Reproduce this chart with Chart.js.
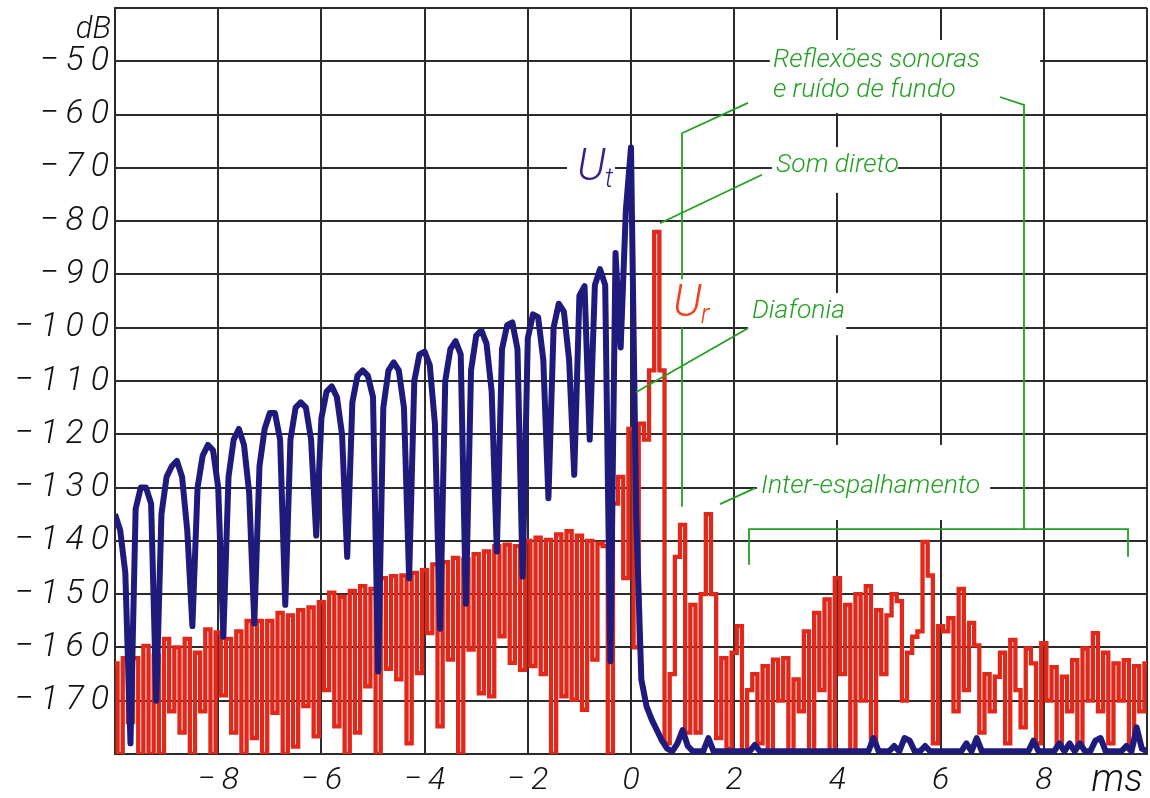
<!DOCTYPE html>
<html>
<head>
<meta charset="utf-8">
<script src="https://cdn.jsdelivr.net/npm/chart.js@4.4.1/dist/chart.umd.min.js"></script>
<style>
  html, body { margin: 0; background: #fff; }
</style>
</head>
<body>
<canvas id="echoChart" width="1150" height="798"></canvas>
<script>
// sample times: T0 + i * DT (ms)
const T0 = -10;
const DT = 0.1;

// U_t, transmitted signal (dB)
const utValues = [
  -135, -138, -146, -178, -134, -130, -130, -133, -170, -135,
  -128, -126, -125, -128, -138, -156, -130, -124, -122, -123,
  -130, -158, -128, -121, -119, -122, -131, -155.5, -126, -119,
  -116, -116, -121, -152, -121, -115, -114, -115, -121, -139,
  -117, -112, -111, -113, -120, -143, -114, -109, -108, -109,
  -113, -164.5, -115, -108, -106.5, -108, -115, -147, -110, -105,
  -104.5, -107, -118, -156.5, -110, -104, -102.5, -105, -151.8, -108,
  -101.5, -100.5, -103, -112, -142, -104, -99.5, -99, -104, -146.7,
  -102, -97.5, -98, -106, -132, -100, -95.5, -97, -106, -127.6,
  -94, -92.2, -121, -92, -89, -92, -162.6, -86, -103.7, -78,
  -66.2, -135, -166, -171, -173.5, -175.5, -177.5, -179, -179.5, -178,
  -175.5, -178.5, -179.5, -179.5, -179.5, -177, -179.5, -179.5, -179.5, -179.5,
  -179.5, -179.5, -179.5, -179.5, -178.3, -179.5, -179.5, -179.5, -179.5, -179.5,
  -179.5, -179.5, -179.5, -179.5, -179.5, -179.5, -179.5, -179.5, -179.5, -179.5,
  -179.5, -179.5, -179.5, -179.5, -179.5, -179.5, -179.5, -177, -179.5, -179.5,
  -179.5, -178.5, -179.5, -177, -177.5, -179.5, -179.5, -178.5, -179.5, -179.5,
  -179.5, -179.5, -179.5, -179.5, -179.5, -178, -179.5, -177, -179.5, -179.5,
  -179.5, -179.5, -179.5, -179.5, -179.5, -179.5, -179.5, -179.5, -177.5, -179.5,
  -179.5, -179.5, -179.5, -178, -179.5, -178, -179.5, -178, -179.5, -179.5,
  -177.5, -177, -179.5, -179.5, -179.5, -179.5, -178.5, -179.5, -175, -179,
  -179.5
];

// U_r, received signal (dB)
const urValues = [
  -163, -180, -162, -174, -162, -180, -159.7, -180, -161.6, -180,
  -158.4, -172, -160, -176, -158.4, -180, -161, -172, -156.6, -180,
  -157.2, -169, -158.4, -176, -157, -180, -155, -177, -155, -180,
  -155, -172.3, -153.5, -180, -154, -178.6, -153, -171, -152.5, -176.7,
  -151.5, -168, -149.7, -174.8, -150.5, -180, -149.4, -176, -148.5, -167.3,
  -149, -180, -147, -164, -146.6, -166, -146.5, -178, -146, -164.8,
  -145.5, -157.3, -144.4, -174.8, -144, -162.3, -143.2, -180, -143.5, -160.4,
  -142.5, -168.6, -142, -169.2, -141, -157.9, -140.7, -162.9, -141, -164.2,
  -140, -163.5, -139.4, -165, -139.8, -180, -138.8, -169.2, -138.2, -169.8,
  -139, -171.7, -140, -162.3, -140.5, -141, -180, -133, -128, -147,
  -119, -160, -118, -121, -108, -82, -108, -178, -165, -143,
  -137, -176, -152, -176, -150, -135, -150, -177, -162, -179,
  -161, -156, -180, -168, -165, -178, -163.5, -180, -162.3, -170,
  -162, -180, -166, -172, -157, -180, -153.5, -168, -151, -180,
  -147, -165, -152, -180, -150, -170, -148.5, -178, -153, -165,
  -154, -150, -151.3, -170, -161, -158, -157, -140.2, -146.5, -178,
  -156, -157, -154.5, -172, -149, -168, -155.4, -159.6, -176, -165,
  -172, -165.5, -161, -178, -158.6, -168, -175, -160.2, -163, -178,
  -159.2, -170, -163.7, -178, -165.5, -172, -162.4, -178, -160.2, -170,
  -157.3, -172, -161, -178, -163, -170, -162.4, -178, -163.5, -172,
  -163
];

const xUnit = 'ms';
const yUnit = 'dB';

// annotation texts, anchored in data units (ms, dB): left edge / baseline
const notes = [
  { text: 'Reflexões sonoras', t: 2.75, v: -51.1 },
  { text: 'e ruído de fundo', t: 2.75, v: -56.7 },
  { text: 'Som direto', t: 2.81, v: -70.8 },
  { text: 'Diafonia', t: 2.345, v: -98.2 },
  { text: 'Inter-espalhamento', t: 2.52, v: -131.0 }
];

// green leader lines and bracket, data units
const leaders = [
  [[2.267, -57.8], [0.988, -63.5], [0.988, -90.9]],
  [[0.988, -99.9], [0.988, -133.6]],
  [[7.151, -56.7], [7.616, -58.2], [7.616, -137.8]],
  [[2.287, -144.5], [2.287, -137.8], [9.632, -137.8], [9.632, -143.0]],
  [[2.539, -71.3], [0.562, -80.4]],
  [[2.267, -100.1], [0.097, -112.1]],
  [[2.403, -130.1], [1.725, -133.1]]
];

// white label backgrounds that break the grid: [t0, t1, v0, v1]
const masks = [
  [2.69, 7.93, -46.0, -59.7],
  [2.73, 5.17, -66.1, -74.7],
  [2.27, 4.17, -93.5, -101.4],
  [2.44, 6.96, -122.0, -136.1],
  [-1.24, -0.31, -64.8, -74.5],
  [0.72, 1.65, -90.7, -99.7]
];

// curve names: main letter, subscript, anchor
const curveLabels = [
  { main: 'U', sub: 't', t: -1.047, v: -72.3, color: '#3b1f82' },
  { main: 'U', sub: 'r', t: 0.814, v: -97.8, color: '#f2401e' }
];

const THIN = '\u2009';
function spaced(v) {
  const s = Math.abs(v).toString().split('').join(THIN);
  return v < 0 ? '\u2212' + THIN + s : s;
}

function toPoints(values) {
  return values.map((y, i) => ({ x: +(T0 + i * DT).toFixed(2), y: y }));
}

const FONT = 'Roboto, "Liberation Sans", Arial, sans-serif';
const GREEN = '#22a022';

const notesPlugin = {
  id: 'notes',
  beforeDatasetsDraw(chart) {
    const { ctx, scales: { x, y } } = chart;
    ctx.save();
    ctx.fillStyle = '#fff';
    masks.forEach(m => {
      const x0 = x.getPixelForValue(m[0]), x1 = x.getPixelForValue(m[1]);
      const y0 = y.getPixelForValue(m[2]), y1 = y.getPixelForValue(m[3]);
      ctx.fillRect(x0, y0, x1 - x0, y1 - y0);
    });
    ctx.restore();
  },
  afterDatasetsDraw(chart) {
    const { ctx, scales: { x, y } } = chart;
    ctx.save();
    ctx.strokeStyle = GREEN;
    ctx.lineWidth = 1.8;
    leaders.forEach(path => {
      ctx.beginPath();
      path.forEach((p, k) => {
        const px = x.getPixelForValue(p[0]), py = y.getPixelForValue(p[1]);
        if (k === 0) ctx.moveTo(px, py); else ctx.lineTo(px, py);
      });
      ctx.stroke();
    });

    ctx.fillStyle = GREEN;
    ctx.font = 'italic 300 26.5px ' + FONT;
    ctx.textAlign = 'left';
    ctx.textBaseline = 'alphabetic';
    notes.forEach(n => {
      ctx.fillText(n.text, x.getPixelForValue(n.t), y.getPixelForValue(n.v));
    });

    curveLabels.forEach(c => {
      const px = x.getPixelForValue(c.t), py = y.getPixelForValue(c.v);
      ctx.fillStyle = c.color;
      ctx.font = 'italic 300 45px ' + FONT;
      ctx.fillText(c.main, px, py);
      const w = ctx.measureText(c.main).width;
      ctx.font = 'italic 300 27px ' + FONT;
      ctx.fillText(c.sub, px + w - 1, py + 7);
    });
    ctx.restore();
  },
  afterDraw(chart) {
    const { ctx, chartArea } = chart;
    ctx.save();
    ctx.fillStyle = '#111';
    ctx.textBaseline = 'alphabetic';
    ctx.textAlign = 'right';
    ctx.font = 'italic 300 31px ' + FONT;
    ctx.fillText(yUnit, chartArea.left - 4, chartArea.top + 30);
    ctx.font = 'italic 300 38px ' + FONT;
    ctx.fillText(xUnit, chartArea.right - 4, chartArea.bottom + 37);
    ctx.restore();
  }
};

new Chart(document.getElementById('echoChart'), {
  type: 'line',
  data: {
    datasets: [{
      label: 'Ut',
      data: toPoints(utValues),
      borderColor: '#1e1b7c',
      borderWidth: 6,
      borderJoinStyle: 'round',
      pointRadius: 0,
      order: 0
    }, {
      label: 'Ur',
      data: toPoints(urValues),
      borderColor: '#e0291b',
      borderWidth: 4.3,
      borderJoinStyle: 'miter',
      stepped: 'middle',
      pointRadius: 0,
      order: 1
    }]
  },
  options: {
    responsive: false,
    animation: false,
    devicePixelRatio: 1,
    layout: { padding: { top: 8, right: 3, left: 0, bottom: 0 } },
    plugins: {
      legend: { display: false },
      tooltip: { enabled: false }
    },
    scales: {
      x: {
        type: 'linear',
        min: -10,
        max: 10,
        ticks: {
          stepSize: 2,
          autoSkip: false,
          maxRotation: 0,
          padding: 8,
          color: '#111',
          font: { family: FONT, size: 32, style: 'italic', weight: '300' },
          callback: v => (v <= -10 || v >= 10) ? '' : spaced(v)
        },
        grid: { color: '#2b2b2b', lineWidth: 2, drawTicks: false },
        border: { color: '#2b2b2b', width: 2 },
        afterFit: s => { s.height = 44; s.paddingLeft = 0; s.paddingRight = 0; }
      },
      y: {
        min: -180,
        max: -40,
        ticks: {
          stepSize: 10,
          padding: 6,
          color: '#111',
          font: { family: FONT, size: 34, style: 'italic', weight: '300' },
          callback: v => (v <= -180 || v >= -40) ? '' : spaced(v)
        },
        grid: { color: '#2b2b2b', lineWidth: 2, drawTicks: false },
        border: { color: '#2b2b2b', width: 2 },
        afterFit: s => { s.width = 115; s.paddingTop = 0; s.paddingBottom = 0; }
      }
    }
  },
  plugins: [notesPlugin]
});
</script>
</body>
</html>
